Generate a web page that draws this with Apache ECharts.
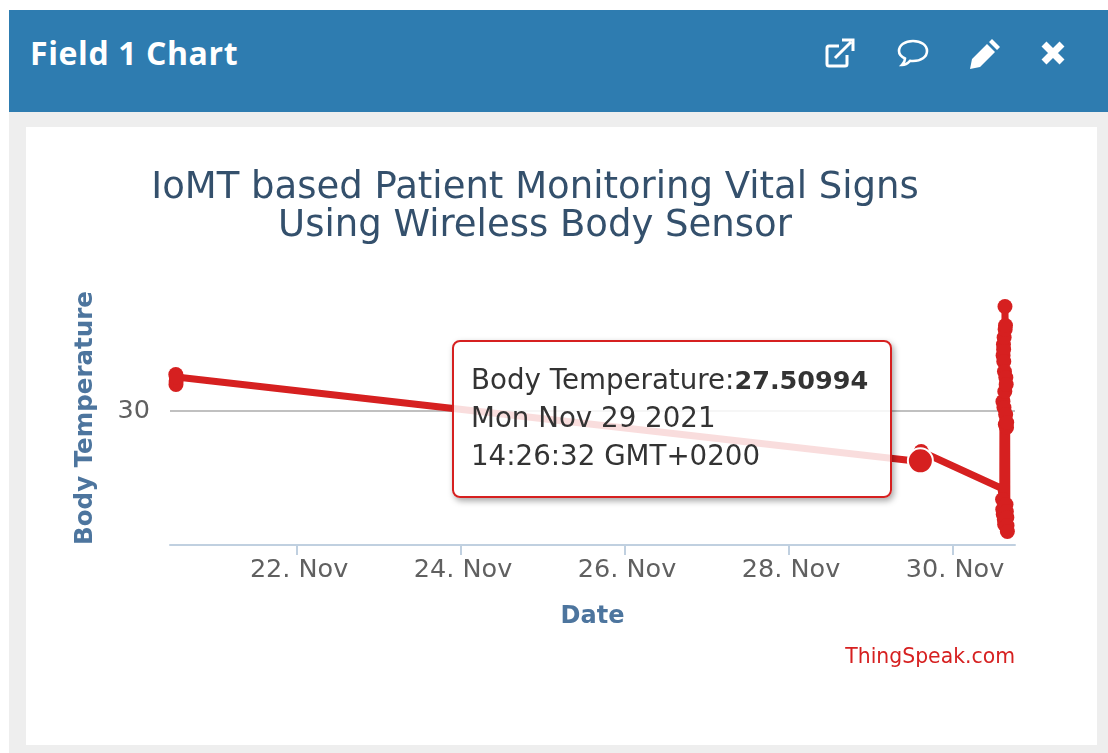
<!DOCTYPE html>
<html>
<head>
<meta charset="utf-8">
<title>Field 1 Chart</title>
<script src="https://cdn.jsdelivr.net/npm/echarts@6/dist/echarts.min.js"></script>
<style>
    html, body { margin: 0; padding: 0; background: #fff; }
    .panel { position: absolute; left: 9px; top: 10px; width: 1099px; height: 743px; background: #eee; }
    .header { position: absolute; left: 9px; top: 10px; width: 1099px; height: 102px; background: #2e7cb0; }
    .header h3 {
        position: absolute; left: 21px; top: 23px; margin: 0; color: #fff;
        font: bold 32px/40px "Open Sans", sans-serif; letter-spacing: .6px;
    }
    .header svg { position: absolute; top: 26px; width: 34px; height: 34px; fill: none; stroke: #fff; }
    .card { position: absolute; left: 26px; top: 127px; width: 1071px; height: 618px; background: #fff; }
    #main { position: absolute; left: 0; top: 0; width: 1108px; height: 753px; }
</style>
</head>
<body>
<div class="panel"></div>
<div class="header">
    <h3>Field 1 Chart</h3>
    <svg style="left:814px" viewBox="0 0 34 34" stroke-width="3">
        <path d="M24 19v9a2 2 0 0 1-2 2H6a2 2 0 0 1-2-2V12a2 2 0 0 1 2-2h10"/>
        <path d="M12 22L28 6M19 4h11v11"/>
    </svg>
    <svg style="left:887px" viewBox="0 0 34 34" stroke-width="2.6">
        <path d="M17 5c8 0 14 4 14 10s-6 10-14 10c-1 0-2 0-3-.2C12 27 9 29 6 29c2-2 3-4 3-6.500C5 20.500 3 18 3 15 3 9 9 5 17 5z"/>
    </svg>
    <svg style="left:959px" viewBox="0 0 34 34" stroke="none">
        <path style="fill:#fff;stroke:none" d="M24 3l8 8-3 3-8-8zM19 8l8 8L12 31l-10 2 2-10z"/>
    </svg>
    <svg style="left:1027px" viewBox="0 0 34 34" stroke-width="7">
        <path d="M8 8l18 18M26 8L8 26"/>
    </svg>
</div>
<div class="card"></div>
<div id="main"></div>
<script>
const chartTitle = 'IoMT based Patient Monitoring Vital Signs\nUsing Wireless Body Sensor';
const seriesName = 'Body Temperature';
const credit = 'ThingSpeak.com';

// readings
const times = [
    '2021-11-20T12:30', '2021-11-20T12:33', '2021-11-20T12:36', '2021-11-20T12:39',
    '2021-11-29T14:10', '2021-11-29T14:26', '2021-11-29T14:40',
    '2021-11-30T14:00',
    '2021-11-30T14:30', '2021-11-30T14:33', '2021-11-30T14:36', '2021-11-30T14:39',
    '2021-11-30T14:42', '2021-11-30T14:45', '2021-11-30T14:48', '2021-11-30T14:51',
    '2021-11-30T14:54', '2021-11-30T14:57', '2021-11-30T15:00', '2021-11-30T15:03',
    '2021-11-30T15:06', '2021-11-30T15:09', '2021-11-30T15:12', '2021-11-30T15:15',
    '2021-11-30T15:18', '2021-11-30T15:21', '2021-11-30T15:24', '2021-11-30T15:27',
    '2021-11-30T15:30', '2021-11-30T15:33', '2021-11-30T15:36', '2021-11-30T15:39',
    '2021-11-30T15:42', '2021-11-30T15:45', '2021-11-30T15:48', '2021-11-30T15:54'
];
const temps = [
    31.825, 31.325, 31.5, 31.7,
    27.475, 27.50994, 27.975,
    26.15,
    25.575, 25.075, 30.475, 32.775,
    24.825, 33.325, 33.075, 32.475,
    30.175, 33.675, 24.575, 31.975,
    24.325, 30.975, 35.225, 34.075,
    29.325, 34.275, 29.825, 31.675,
    25.325, 31.325, 24.975, 29.175,
    29.425, 24.675, 24.275, 23.975
];
const tickDates = ['2021-11-22', '2021-11-24', '2021-11-26', '2021-11-28', '2021-11-30'];
const tickLabels = ['22. Nov', '24. Nov', '26. Nov', '28. Nov', '30. Nov'];
const yTicks = [30];

const hoverIndex = 5;
const hiddenMark = 7;
const tipLines = ['Mon Nov 29 2021', '14:26:32 GMT+0200'];

const toMs = s => +new Date(s);
const tickTimes = tickDates.map(d => toMs(d + 'T00:00'));

const myChart = echarts.init(document.getElementById('main'), null, { renderer: 'canvas' });

const option = {
    animation: false,
    backgroundColor: 'transparent',
    title: [
        {
            text: chartTitle,
            left: 530,
            top: 164,
            textAlign: 'center',
            textStyle: {
                color: '#34506c',
                fontFamily: 'DejaVu Sans',
                fontWeight: 'normal',
                fontSize: 37,
                lineHeight: 38
            }
        },
        {
            text: credit,
            right: 88,
            top: 643,
            textStyle: {
                color: '#d62020',
                fontFamily: 'DejaVu Sans',
                fontWeight: 'normal',
                fontSize: 20.4
            }
        }
    ],
    tooltip: {
        trigger: 'item',
        triggerOn: 'none',
        alwaysShowContent: true,
        transitionDuration: 0,
        position: [452, 340],
        backgroundColor: 'rgba(255,255,255,0.85)',
        borderColor: '#d62020',
        borderWidth: 2,
        padding: [19, 20, 21, 17],
        extraCssText: 'border-radius:8px;box-shadow:2px 3px 6px rgba(0,0,0,.35);line-height:38px;width:399px;box-sizing:content-box;',
        textStyle: { color: '#333', fontFamily: 'DejaVu Sans', fontSize: 27.7 },
        formatter: p => seriesName + ':<b style="font-size:25.500px">' + p.value[1] + '</b><br>' + tipLines.join('<br>')
    },
    grid: { left: 170, right: 93, top: 291, bottom: 208 },
    xAxis: {
        type: 'value',
        min: toMs('2021-11-20T10:48'),
        max: toMs('2021-11-30T18:08'),
        name: 'Date',
        nameLocation: 'middle',
        nameGap: 60,
        nameTextStyle: { color: '#4d759e', fontFamily: 'DejaVu Sans', fontWeight: 'bold', fontSize: 24 },
        axisLine: { lineStyle: { color: '#c0d0e0', width: 2 } },
        axisTick: { customValues: tickTimes, length: 10, lineStyle: { color: '#c0d0e0', width: 2 } },
        axisLabel: {
            customValues: tickTimes,
            margin: 12,
            color: '#606060',
            fontFamily: 'DejaVu Sans',
            fontSize: 25.5,
            padding: [0, 0, 0, 4],
            formatter: v => tickLabels[tickTimes.indexOf(+v)]
        },
        splitLine: { show: false }
    },
    yAxis: {
        type: 'value',
        min: 23.3,
        max: 36,
        name: seriesName,
        nameLocation: 'middle',
        nameRotate: 90,
        nameGap: 72,
        nameTextStyle: { color: '#4d759e', fontFamily: 'DejaVu Sans', fontWeight: 'bold', fontSize: 24.5 },
        axisLine: { show: false },
        axisTick: { show: false, customValues: yTicks },
        axisLabel: {
            customValues: yTicks,
            margin: 20,
            color: '#606060',
            fontFamily: 'DejaVu Sans',
            fontSize: 25.5,
            padding: [0, 0, 6, 0]
        },
        splitLine: { show: true, lineStyle: { color: '#c0c0c0', width: 2 } }
    },
    series: [
        {
            name: seriesName,
            type: 'line',
            symbol: 'circle',
            symbolSize: 15,
            showAllSymbols: true,
            lineStyle: { color: '#d62020', width: 7 },
            itemStyle: { color: '#d62020' },
            data: times.map((t, i) => {
                const d = { value: [toMs(t), temps[i]] };
                if (i === hiddenMark) d.symbol = 'none';
                return d;
            })
        },
        {
            // hovered point sits on top of its neighbours
            name: seriesName,
            type: 'scatter',
            z: 5,
            symbol: 'circle',
            symbolSize: 25,
            itemStyle: { color: '#d62020', opacity: 1, borderColor: '#fff', borderWidth: 2 },
            data: [[toMs(times[hoverIndex]), temps[hoverIndex]]]
        }
    ]
};
myChart.setOption(option);
myChart.dispatchAction({ type: 'showTip', seriesIndex: 1, dataIndex: 0 });
</script>
</body>
</html>
